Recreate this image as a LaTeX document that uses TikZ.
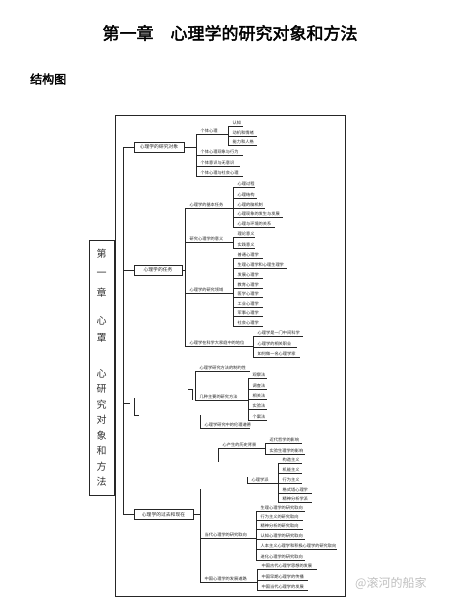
\documentclass[tikz,border=0pt]{standalone}
\usepackage{fontspec}
\setmainfont{Noto Sans CJK SC}
\newfontfamily\cjkbold[FakeBold=2.5]{Noto Sans CJK SC}
\usepackage{tikz}
\tikzset{
	leaftext/.style={font=\fontsize{4.2}{5}\selectfont, text=black!85, inner xsep=4.5pt, inner ysep=1pt, align=left}
}
\tikzset{
	topbox/.style={draw=black!85, line width=0.5pt, font=\fontsize{4.8}{6}\selectfont, text=black!85, minimum height=10pt, inner sep=0pt}
}
\tikzset{
	uline/.style={line width=0.45pt, draw=black!85}
}
\newcommand{\leaf}[5]{%
  \pgfmathsetmacro{\leafw}{#4-9}%
  \node[leaftext, text width=\leafw pt, anchor=south west] (#1) at (#2,#3) {#5};
  \draw[uline] (#1.south west) -- (#1.south east);}

\begin{document}
\begin{tikzpicture}[x=1pt, y=-1pt]
      \useasboundingbox (0,0) rectangle (449,600);
      \node[font=\cjkbold\fontsize{17}{20}\selectfont] (title) at (230,33) {第一章　心理学的研究对象和方法};
      \node[font=\cjkbold\fontsize{12}{14}\selectfont, anchor=west, inner sep=0pt] (jgt) at (30,79) {结构图};
      \draw[line width=0.6pt, black!85] (115,115) rectangle (345,596);
      \node[draw=black!85, line width=0.7pt, minimum width=25pt, minimum height=255pt, inner sep=0pt,
            font=\fontsize{10}{15.5}\selectfont, align=center, text=black!80] (chap) at (101.5,367.5)
            {第\\[3.5pt]一\\[4.5pt]章\\[12.5pt]心\\[1.5pt]罩\\[20.5pt]心\\研\\究\\对\\象\\和\\方\\法};
      % top level and trunk
      \node[topbox, minimum width=50pt] (obj) at (159,147) {心理学的研究对象};
      \node[topbox, minimum width=48pt] (task) at (158,270) {心理学的任务};
      \node[topbox, minimum width=59pt] (hist) at (163.5,514.5) {心理学的过去和现在};
      \draw[uline] (obj.west) -- ++(-11,0) |- (hist.west);
      \draw[uline] (task.west) -- ++(-11,0);
      \draw[uline] (123,403) -- (130,403);
      \draw[uline] (134,398) -- (134,415) -- (139,415);

      \leaf{p1}{196}{134}{32}{个体心理}
      \leaf{p2}{196}{155}{47}{个体心理现象与行为}
      \leaf{p3}{196}{166}{44}{个体意识与无意识}
      \leaf{p4}{196}{176}{47}{个体心理与社会心理}
      \draw[uline] (obj.east) -- (obj.east -| p1.south west);
      \draw[uline] (p1.south west) -- (p4.south west);
      \leaf{p11}{228}{126}{15}{认知}
      \leaf{p12}{228}{136}{29}{动机和情绪}
      \leaf{p13}{228}{145}{29}{能力和人格}
      \draw[uline] (p11.south west) -- (p13.south west);

      \leaf{t1}{185}{208}{48}{心理学的基本任务}
      \leaf{t2}{185}{242}{48}{研究心理学的意义}
      \leaf{t3}{185}{293}{48}{心理学的研究领域}
      \leaf{t4}{185}{346}{68}{心理学在科学大家庭中的地位}
      \draw[uline] (task.east) -- (task.east -| t1.south west);
      \draw[uline] (t1.south west) -- (t4.south west);
      \leaf{a1}{233}{187}{22}{心理过程}
      \leaf{a2}{233}{198}{24}{心理结构}
      \leaf{a3}{233}{208}{32}{心理的脑机制}
      \leaf{a4}{233}{217}{50}{心理现象的发生与发展}
      \leaf{a5}{233}{227}{42}{心理与环境的关系}
      \draw[uline] (a1.south west) -- (a5.south west);
      \leaf{b1}{233}{237}{22}{理论意义}
      \leaf{b2}{233}{248}{22}{实践意义}
      \draw[uline] (b1.south west) -- (b2.south west);
      \leaf{c1}{233}{258}{30}{普通心理学}
      \leaf{c2}{233}{268}{54}{生理心理学和心理生理学}
      \leaf{c3}{233}{278}{30}{发展心理学}
      \leaf{c4}{233}{288}{30}{教育心理学}
      \leaf{c5}{233}{297}{30}{医学心理学}
      \leaf{c6}{233}{307}{30}{工业心理学}
      \leaf{c7}{233}{316}{30}{军事心理学}
      \leaf{c8}{233}{326}{30}{社会心理学}
      \draw[uline] (c1.south west) -- (c8.south west);
      \leaf{d1}{253}{336}{50}{心理学是一门中间科学}
      \leaf{d2}{253}{347}{44}{心理学的相关职业}
      \leaf{d3}{253}{357}{47}{如何做一名心理学家}
      \draw[uline] (d1.south west) -- (d3.south west);

      % methods
      \leaf{m1}{195}{371}{55}{心理学研究方法的制约性}
      \leaf{m2}{195}{400}{53}{几种主要的研究方法}
      \leaf{m3}{200}{428}{50}{心理学研究中的伦理道德}
      \draw[uline] (m1.south west) -- (m2.south west);
      \draw[uline] (m3.south west) -- ++(0,-13);
      \draw[uline] (188,389) -- (192,389) -- (192,400);
      \leaf{e1}{248}{378}{19}{观察法}
      \leaf{e2}{248}{389}{19}{调查法}
      \leaf{e3}{248}{399}{19}{相关法}
      \leaf{e4}{248}{409}{19}{实验法}
      \leaf{e5}{248}{420}{19}{个案法}
      \draw[uline] (e1.south west) -- (e5.south west);

      \leaf{h1}{218}{448}{47}{心产生的历史背景}
      \leaf{h2}{247}{483}{31}{心理学派}
      \leaf{h3}{200}{538}{56}{当代心理学的研究取向}
      \leaf{h4}{200}{582}{57}{中国心理学的发展道路}
      \coordinate (htop) at (200,489);
      \draw[uline] (htop) -- (h4.south west);
      \draw[uline] (hist.east) -- (hist.east -| h4.south west);
      \draw[uline] (h1.south west) -- ++(0,14);
      \draw[uline] (h2.south west) -- ++(0,-6);
      \leaf{f1}{265}{443}{37}{近代哲学的影响}
      \leaf{f2}{265}{454}{40}{实验生理学的影响}
      \draw[uline] (f1.south west) -- (f2.south west);
      \leaf{g1}{278}{463}{24}{构造主义}
      \leaf{g2}{278}{473}{24}{机能主义}
      \leaf{g3}{278}{483}{24}{行为主义}
      \leaf{g4}{278}{493}{34}{格式塔心理学}
      \leaf{g5}{278}{502}{34}{精神分析学派}
      \draw[uline] (g1.south west) -- (g5.south west);
      \leaf{k1}{256}{511}{49}{生理心理学的研究取向}
      \leaf{k2}{256}{520}{47}{行为主义的研究取向}
      \leaf{k3}{256}{529}{47}{精神分析的研究取向}
      \leaf{k4}{256}{539}{49}{认知心理学的研究取向}
      \leaf{k5}{256}{549}{81}{人本主义心理学和积极心理学的研究取向}
      \leaf{k6}{256}{560}{49}{进化心理学的研究取向}
      \draw[uline] (k1.south west) -- (k6.south west);
      \leaf{l1}{257}{569}{60}{中国古代心理学思想的发展}
      \leaf{l2}{257}{580}{51}{中国早期心理学的传播}
      \leaf{l3}{257}{590}{51}{中国当代心理学的发展}
      \draw[uline] (l1.south west) -- (l3.south west);

      \node[font=\fontsize{12}{14}\selectfont, text=black!25, anchor=west, inner sep=0pt] (wm) at (355,583) {@滚河的船家};
\end{tikzpicture}
\end{document}
